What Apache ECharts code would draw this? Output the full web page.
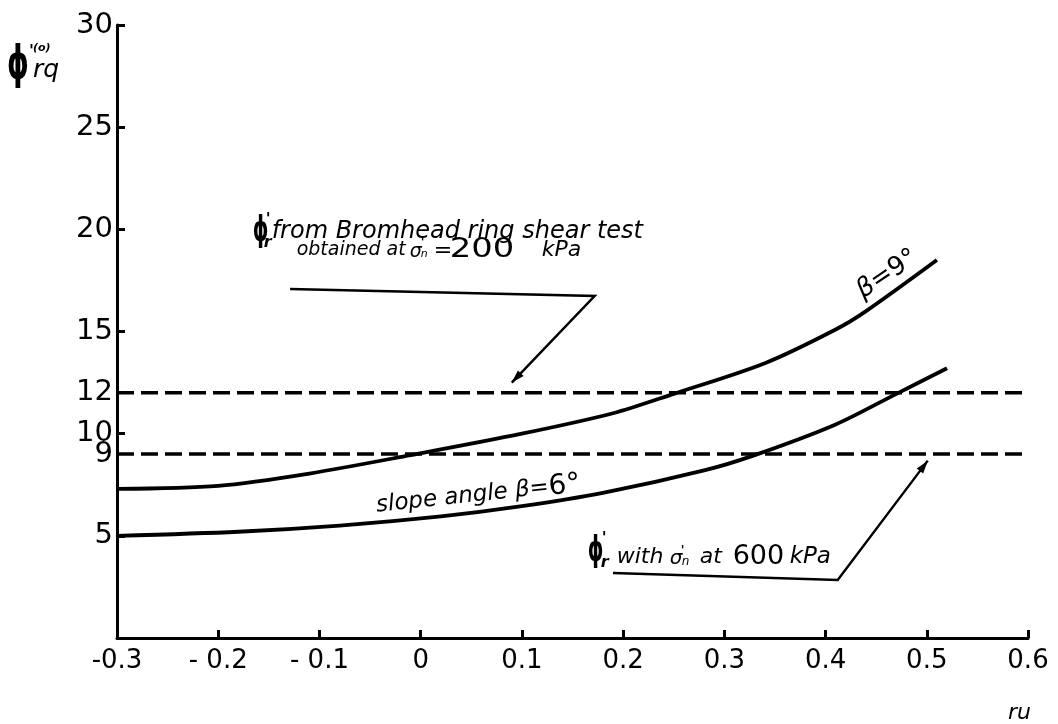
<!DOCTYPE html>
<html><head><meta charset="utf-8">
<script src="https://cdn.jsdelivr.net/npm/echarts@6/dist/echarts.min.js"></script>
<style>html,body{margin:0;padding:0;background:#fff}#c{width:1058px;height:724px}</style>
</head><body><div id="c"></div>
<script>
// ---------- data ----------
const xTickValues = [-0.3, -0.2, -0.1, 0, 0.1, 0.2, 0.3, 0.4, 0.5, 0.6];
const xTickLabels = ['-0.3', '- 0.2', '- 0.1', '0', '0.1', '0.2', '0.3', '0.4', '0.5', '0.6'];
const yTickLabels = [5, 9, 10, 12, 15, 20, 25, 30];
const yTickMarks = [5, 10, 15, 20, 25, 30];

const ruBeta9 = [-0.3, -0.2, -0.11, -0.01, 0.1, 0.19, 0.25, 0.34, 0.41, 0.44, 0.51];
const phiBeta9 = [7.3, 7.45, 8.05, 8.95, 10.0, 11.0, 11.95, 13.45, 15.1, 16.0, 18.5];
const ruBeta6 = [-0.3, -0.18, -0.08, 0.02, 0.1, 0.18, 0.28, 0.33, 0.41, 0.47, 0.52];
const phiBeta6 = [5.0, 5.2, 5.5, 5.95, 6.45, 7.1, 8.2, 8.95, 10.45, 11.95, 13.2];
const ruRefLine = [-0.3, 0.6];
const phiRing200 = [12, 12];
const phiRing600 = [9, 9];

// ---------- annotation anchors (data units: [ru, phi]) ----------
const anchorRing200Text = [-0.166, 19.87];
const leaderRing200 = [[-0.129, 17.08], [0.172, 16.74], [0.090, 12.5]];
const anchorRing600Text = [0.165, 4.21];
const leaderRing600 = [[0.190, 3.18], [0.412, 2.84], [0.501, 8.68]];
const anchorBeta6Label = [0.057, 7.0];
const anchorBeta9Label = [0.461, 17.8];

const FONT = 'DejaVu Sans';
const pair = (xs, ys) => xs.map((x, i) => [x, ys[i]]);

const chart = echarts.init(document.getElementById('c'), null, {renderer: 'canvas'});
const solid = {color: '#000', width: 3.8};
const dashed = {color: '#000', width: 3.5, type: [17, 7]};

chart.setOption({
  backgroundColor: '#fff',
  animation: false,
  grid: {left: 117, right: 30, top: 25, bottom: 86},
  xAxis: {
    type: 'value', min: -0.3, max: 0.6, interval: 0.1,
    axisLine: {onZero: false, lineStyle: {color: '#000', width: 3}},
    axisTick: {inside: true, length: 8, lineStyle: {color: '#000', width: 3},
               customValues: xTickValues.slice(1)},
    axisLabel: {color: '#000', fontFamily: FONT, fontSize: 26, margin: 10,
                customValues: xTickValues,
                formatter: v => { const i = xTickValues.findIndex(t => Math.abs(t - v) < 1e-6); return i >= 0 ? xTickLabels[i] : ''; }},
    splitLine: {show: false}
  },
  yAxis: {
    type: 'value', min: 0, max: 30, interval: 5,
    axisLine: {onZero: false, lineStyle: {color: '#000', width: 3}},
    axisTick: {inside: true, length: 8, lineStyle: {color: '#000', width: 3},
               customValues: yTickMarks},
    axisLabel: {color: '#000', fontFamily: FONT, fontSize: 29, margin: 4,
                customValues: yTickLabels},
    splitLine: {show: false}
  },
  series: [
    {type: 'line', data: pair(ruBeta9, phiBeta9), smooth: 0.3, symbol: 'none', lineStyle: solid},
    {type: 'line', data: pair(ruBeta6, phiBeta6), smooth: 0.3, symbol: 'none', lineStyle: solid},
    {type: 'line', data: pair(ruRefLine, phiRing200), symbol: 'none', lineStyle: dashed},
    {type: 'line', data: pair(ruRefLine, phiRing600), symbol: 'none', lineStyle: dashed}
  ]
});

// ---------- annotations ----------
const px = p => chart.convertToPixel({xAxisIndex: 0, yAxisIndex: 0}, p);
function txt(x, y, text, size, italic, extra, weight) {
  return Object.assign({type: 'text', x: x, y: y, style: {
    text: text, fontFamily: FONT, fontSize: size, fontStyle: italic ? 'italic' : 'normal',
    fontWeight: weight || 'normal',
    fill: '#000', align: 'left', textAlign: 'left', verticalAlign: 'middle', textVerticalAlign: 'middle'
  }}, extra || {});
}
function arrowHead(from, to, len, hw) {
  const dx = to[0] - from[0], dy = to[1] - from[1], L = Math.hypot(dx, dy);
  const ux = dx / L, uy = dy / L, bx = to[0] - ux * len, by = to[1] - uy * len;
  return [[to[0], to[1]], [bx - uy * hw, by + ux * hw], [bx + uy * hw, by - ux * hw]];
}
function leader(ptsData) {
  const pts = ptsData.map(px);
  return [
    {type: 'polyline', shape: {points: pts}, style: {stroke: '#000', lineWidth: 2.4, fill: null}},
    {type: 'polygon', shape: {points: arrowHead(pts[pts.length - 2], pts[pts.length - 1], 13, 4)}, style: {fill: '#000'}}
  ];
}

const a1 = px(anchorRing200Text);
const groupRing200 = {type: 'group', x: a1[0], y: a1[1], children: [
  txt(0, 0, 'ϕ', 36, false, {scaleX: 0.55}, 'bold'),
  txt(13, -12, "'", 16, false, null, 'bold'),
  txt(11, 11, 'r', 16, true, null, 'bold'),
  txt(19, 0, 'from Bromhead ring shear test', 24, true),
  txt(44, 18, 'obtained at', 19, true),
  txt(157, 20, 'σ', 19, true),
  txt(168, 11, "'", 12, false, null, 'bold'),
  txt(168, 22, 'n', 11, true),
  txt(181, 19, '=', 22, false),
  txt(197, 18, '200', 26, false, {scaleX: 1.3}),
  txt(289, 18, 'kPa', 22, true)
]};

const a2 = px(anchorRing600Text);
const groupRing600 = {type: 'group', x: a2[0], y: a2[1], children: [
  txt(0, 0, 'ϕ', 36, false, {scaleX: 0.55}, 'bold'),
  txt(14, -13, "'", 16, false, null, 'bold'),
  txt(13, 11, 'r', 16, true, null, 'bold'),
  txt(29, 5, 'with', 22, true),
  txt(82, 7, 'σ', 20, true),
  txt(93, -1, "'", 12, false, null, 'bold'),
  txt(94, 10, 'n', 12, true),
  txt(112, 5, 'at', 22, true),
  txt(145, 5, '600', 27, false),
  txt(202, 5, 'kPa', 23, true)
]};

const b6 = px(anchorBeta6Label);
const groupBeta6 = {type: 'group', x: b6[0], y: b6[1], rotation: 6 * Math.PI / 180, children: [
  {type: 'text', x: 0, y: 0, style: {
    text: '{i|slope angle β=}{n|6°}', align: 'center', textAlign: 'center', verticalAlign: 'middle', textVerticalAlign: 'middle', fill: '#000',
    rich: {i: {fontFamily: FONT, fontSize: 23, fontStyle: 'italic', fill: '#000'},
           n: {fontFamily: FONT, fontSize: 28, fill: '#000'}}
  }}
]};

const b9 = px(anchorBeta9Label);
const groupBeta9 = {type: 'group', x: b9[0], y: b9[1], rotation: 34 * Math.PI / 180, children: [
  {type: 'text', x: 0, y: 0, style: {
    text: '{i|β}{n|=9°}', align: 'center', textAlign: 'center', verticalAlign: 'middle', textVerticalAlign: 'middle', fill: '#000',
    rich: {i: {fontFamily: FONT, fontSize: 26, fontStyle: 'italic', fill: '#000'},
           n: {fontFamily: FONT, fontSize: 26, fill: '#000'}}
  }}
]};

// axis titles (placed relative to the grid corners)
const origin = px([-0.3, 30]);
const yTitle = {type: 'group', x: origin[0] - 110, y: origin[1] + 41, children: [
  txt(0, 0, 'ϕ', 46, false, {scaleX: 0.6}, 'bold'),
  txt(22, -14, "'", 16, false, null, 'bold'),
  txt(26, -18, '(o)', 11, true, null, 'bold'),
  txt(26, 4, 'rq', 25, true)
]};
const xEnd = px([0.6, 0]);
const xTitle = txt(xEnd[0] - 20, xEnd[1] + 75, 'ru', 22, true);

chart.setOption({graphic: [
  groupRing200, ...leader(leaderRing200),
  groupRing600, ...leader(leaderRing600),
  groupBeta6, groupBeta9, yTitle, xTitle
]});
</script>
</body></html>
